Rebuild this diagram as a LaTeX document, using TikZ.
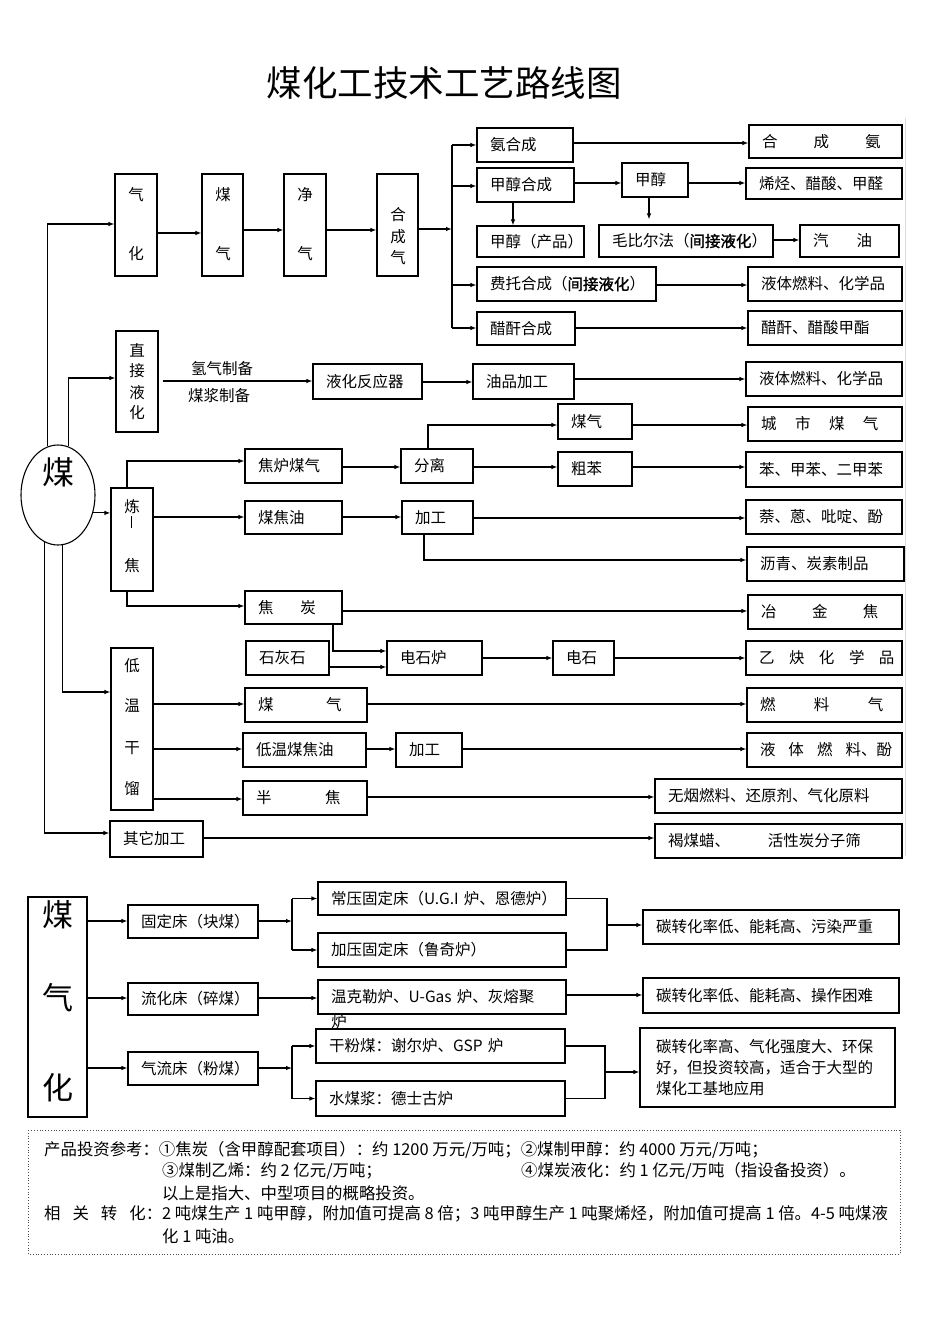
\documentclass[tikz,border=0pt]{standalone}
\usepackage{fontspec}
\setmainfont{Noto Sans CJK SC}
\newfontfamily\hei[FakeBold=1.5]{Noto Sans CJK SC}
\usetikzlibrary{shapes.geometric,arrows.meta,calc}
\tikzset{
 box/.style={draw,line width=1.1pt,inner sep=0pt,align=left,font=\fontsize{15.5}{18}\selectfont},
 lbl/.style={inner sep=0pt,font=\fontsize{15.5}{18}\selectfont},
 ln/.style={line width=1.1pt},
 arr/.style={line width=1.1pt,-{Latex[length=6pt,width=4.5pt]}},
}
\newcommand\mybox[7][]{%
 \pgfmathsetmacro\bxW{#5-#3}%
 \pgfmathsetmacro\bxH{#6-#4}%
 \pgfmathsetmacro\bxX{(#3+#5)/2}%
 \pgfmathsetmacro\bxY{(#4+#6)/2}%
 \pgfmathsetmacro\bxT{#5-#3-26}%
 \node[box,minimum width=\bxW pt,minimum height=\bxH pt,text width=\bxT pt,#1] (#2) at (\bxX,\bxY) {\mbox{#7}};}
\newcommand\harr[3]{\draw[arr] (#1.east |- 0,#3) -- (#2.west |- 0,#3);}
\begin{document}
\begin{tikzpicture}[x=1pt,y=-1pt]
\useasboundingbox (0,0) rectangle (950,1344);
\fill[white] (0,0) rectangle (950,1344);
\draw[black!15,line width=0.8pt] (905,118) -- (905,856);

\node[font=\fontsize{35.5}{36}\selectfont,inner sep=0pt] (title) at (444,83) {煤化工技术工艺路线图};

% coal ellipse
\node[draw,ellipse,line width=1.1pt,inner sep=0pt,minimum width=74pt,minimum height=100pt] (coal) at (58,495) {};
\node[font=\fontsize{32}{32}\selectfont,inner sep=0pt] (coalt) at (58,472) {煤};

% ===== gasification branch =====
\mybox{gasif}{115}{174}{157}{276}{}
\node[lbl] (ga1) at (136,195) {气};
\node[lbl] (ga2) at (136,254) {化};
\mybox{gas1}{202}{174}{243}{276}{}
\node[lbl] (gb1) at (223,195) {煤};
\node[lbl] (gb2) at (223,254) {气};
\mybox{clean}{284}{174}{326}{276}{}
\node[lbl] (gc1) at (305,195) {净};
\node[lbl] (gc2) at (305,254) {气};
\mybox{syn}{377}{174}{418}{276}{}
\node[lbl] (gd1) at (398,215) {合};
\node[lbl] (gd2) at (398,237) {成};
\node[lbl] (gd3) at (398,258) {气};

\mybox{amm}{477}{128}{573}{162}{氨合成}
\mybox{mes}{477}{168}{574}{202}{甲醇合成}
\mybox{mep}{477}{226}{584}{257}{甲醇（产品）}
\mybox{ft}{477}{267}{656}{301}{费托合成（{\hei 间接液化}）}
\mybox{acet}{477}{312}{575}{345}{醋酐合成}
\mybox{mol}{622}{163}{688}{197}{甲醇}
\mybox{mtg}{599}{225}{773}{257}{毛比尔法（{\hei 间接液化}）}
\mybox{ammp}{749}{125}{902}{158}{合\hspace{36pt}成\hspace{36pt}氨}
\mybox{olef}{746}{168}{902}{199}{烯烃、醋酸、甲醛}
\mybox{gasoline}{800}{225}{899}{257}{汽\hspace{28pt}油}
\mybox{liq1}{748}{267}{902}{301}{液体燃料、化学品}
\mybox{acetp}{748}{311}{902}{345}{醋酐、醋酸甲酯}

\harr{gasif}{gas1}{233}
\harr{gas1}{clean}{230}
\harr{clean}{syn}{230}
\coordinate (busA) at (452,145);
\coordinate (busM) at (452,229);
\coordinate (busD) at (452,328);
\draw[arr] (syn.east |- busM) -- (busM);
\draw[ln] (busA) -- (busD);
\draw[arr] (busA) -- (amm.west |- busA);
\draw[arr] (busA |- 0,186) -- (mes.west |- 0,186);
\draw[arr] (busA |- 0,285) -- (ft.west |- 0,285);
\draw[arr] (busD) -- (acet.west |- busD);
\harr{amm}{ammp}{143}
\harr{mes}{mol}{183}
\harr{mol}{olef}{183}
\draw[arr] (mes.south -| 513,0) -- (mep.north -| 513,0);
\draw[arr] (mol.south -| 649,0) -- ([yshift=5pt]mtg.north -| 649,0);
\harr{mtg}{gasoline}{240}
\harr{ft}{liq1}{285}
\harr{acet}{acetp}{328}

% ===== direct liquefaction =====
\mybox{dliq}{116}{331}{158}{432}{}
\node[lbl] (da1) at (137,350) {直};
\node[lbl] (da2) at (137,371) {接};
\node[lbl] (da3) at (137,393) {液};
\node[lbl] (da4) at (137,413) {化};
\mybox{reactor}{313}{364}{422}{399}{液化反应器}
\mybox{oilp}{473}{364}{574}{399}{油品加工}
\mybox{liq2}{746}{362}{902}{396}{液体燃料、化学品}
\draw[arr] ([xshift=4pt]dliq.east |- 0,381) -- (reactor.west |- 0,381);
\node[lbl] (h2) at (222,369) {氢气制备};
\node[lbl] (slur) at (219,396) {煤浆制备};
\harr{reactor}{oilp}{382}
\harr{oilp}{liq2}{379}

% ===== coking =====
\mybox{coke}{111}{488}{153}{591}{}
\node[lbl] (ca1) at (132,507) {炼};
\draw[line width=1pt] (131,516) -- (131,528);
\node[lbl] (ca3) at (132,566) {焦};
\mybox{cog}{245}{449}{342}{483}{焦炉煤气}
\mybox{tar}{245}{501}{342}{534}{煤焦油}
\mybox{cokep}{245}{591}{342}{624}{焦\hspace{27pt}炭}
\mybox{sep}{401}{449}{473}{483}{分离}
\mybox{proc1}{402}{501}{473}{534}{加工}
\mybox{gas2}{558}{404}{632}{439}{煤气}
\mybox{benz}{558}{452}{632}{486}{粗苯}
\mybox{city}{748}{407}{902}{441}{城\hspace{18.5pt}市\hspace{18.5pt}煤\hspace{18.5pt}气}
\mybox{btx}{746}{452}{902}{487}{苯、甲苯、二甲苯}
\mybox{nap}{746}{500}{902}{534}{萘、蒽、吡啶、酚}
\mybox{pitch}{747}{547}{904}{581}{沥青、炭素制品}
\mybox{metc}{748}{595}{902}{629}{冶\hspace{35.5pt}金\hspace{35.5pt}焦}
\mybox{lime}{246}{641}{329}{675}{石灰石}
\mybox{carbf}{387}{641}{482}{675}{电石炉}
\mybox{carb}{553}{641}{614}{675}{电石}
\mybox{acety}{746}{641}{902}{675}{乙\hspace{14.5pt}炔\hspace{14.5pt}化\hspace{14.5pt}学\hspace{14.5pt}品}

\draw[arr] (coke.north -| 127,0) |- (cog.west |- 0,461);
\harr{coke}{tar}{517}
\draw[arr] (coke.south -| 127,0) |- (cokep.west |- 0,606);
\harr{cog}{sep}{467}
\harr{tar}{proc1}{517}
\draw[arr] (sep.north -| 428,0) |- (gas2.west |- 0,425);
\harr{sep}{benz}{467}
\harr{gas2}{city}{425}
\harr{benz}{btx}{467}
\harr{proc1}{nap}{518}
\draw[arr] (proc1.south -| 424,0) |- (pitch.west |- 0,560);
\harr{cokep}{metc}{611}
\draw[arr] (cokep.south -| 333,0) |- (carbf.west |- 0,651);
\harr{lime}{carbf}{667}
\harr{carbf}{carb}{658}
\harr{carb}{acety}{658}

% ===== low temperature carbonisation =====
\mybox{ldist}{111}{648}{153}{810}{}
\node[lbl] (la1) at (132,666) {低};
\node[lbl] (la2) at (132,706) {温};
\node[lbl] (la3) at (132,748) {干};
\node[lbl] (la4) at (132,789) {馏};
\mybox{lgas}{245}{688}{367}{722}{煤\hspace{52.5pt}气}
\mybox{ltar}{243}{733}{366}{767}{低温煤焦油}
\mybox{proc2}{396}{733}{462}{767}{加工}
\mybox{semi}{243}{781}{367}{815}{半\hspace{53.5pt}焦}
\mybox{other}{110}{821}{203}{857}{其它加工}
\mybox{fuelg}{747}{688}{902}{722}{燃\hspace{38.5pt}料\hspace{38.5pt}气}
\mybox{liqph}{747}{733}{902}{767}{液\hspace{13pt}体\hspace{13pt}燃\hspace{13pt}料、酚}
\mybox{smk}{655}{779}{902}{813}{无烟燃料、还原剂、气化原料}
\mybox{lig}{655}{824}{902}{858}{褐煤蜡、\hspace{38pt}活性炭分子筛}

\harr{ldist}{lgas}{704}
\harr{ldist}{ltar}{749}
\harr{ltar}{proc2}{749}
\harr{proc2}{liqph}{749}
\harr{ldist}{semi}{799}
\harr{lgas}{fuelg}{704}
\harr{semi}{smk}{797}
\harr{other}{lig}{838}

% coal connectors
\draw[arr] (coal.102) |- (gasif.west |- 0,224);
\draw[arr] (coal.78) |- (dliq.west |- 0,378);
\draw[arr] (coal.333) -- (coke.west |- coal.333);
\draw[arr] (coal.275) |- (ldist.west |- 0,692);
\draw[arr] (coal.254) |- (other.west |- 0,833);

% ===== coal gasification section =====
\mybox{cg}{28}{897}{87}{1117}{}
\node[inner sep=0pt,font=\fontsize{31}{31}\selectfont] (cg1) at (58,915) {煤};
\node[inner sep=0pt,font=\fontsize{31}{31}\selectfont] (cg2) at (58,998) {气};
\node[inner sep=0pt,font=\fontsize{31}{31}\selectfont] (cg3) at (58,1088) {化};
\mybox{fixed}{128}{905}{258}{938}{固定床（块煤）}
\mybox{fluid}{128}{983}{258}{1015}{流化床（碎煤）}
\mybox{entr}{128}{1052}{258}{1085}{气流床（粉煤）}
\mybox{atm}{318}{882}{566}{915}{常压固定床（U.G.I 炉、恩德炉）}
\mybox{pres}{318}{933}{566}{967}{加压固定床（鲁奇炉）}
\mybox{wink}{318}{980}{566}{1014}{温克勒炉、U-Gas 炉、灰熔聚}
\node[lbl] (winkx) at (339,1022) {炉};
\mybox{dry}{316}{1029}{565}{1063}{干粉煤：谢尔炉、GSP 炉}
\mybox{slurry}{316}{1081}{565}{1116}{水煤浆：德士古炉}
\mybox{r1}{643}{910}{899}{944}{碳转化率低、能耗高、污染严重}
\mybox{r2}{643}{978}{899}{1013}{碳转化率低、能耗高、操作困难}
\node[box,minimum width=255pt,minimum height=79pt,text width=223pt,font=\fontsize{15.5}{21}\selectfont] (r3) at (767.5,1067.5) {碳转化率高、气化强度大、环保\\好，但投资较高，适合于大型的\\煤化工基地应用};

\harr{cg}{fixed}{921}
\harr{cg}{fluid}{998}
\harr{cg}{entr}{1068}
\coordinate (b1t) at (292,898.5);
\coordinate (b1m) at (292,921);
\coordinate (b1b) at (292,950);
\draw[arr] (fixed.east |- b1m) -- (b1m);
\draw[ln] (b1t) -- (b1b);
\draw[arr] (b1t) -- (atm.west |- b1t);
\draw[arr] (b1b) -- (pres.west |- b1b);
\coordinate (rb1) at (607,925);
\draw[ln] (atm.east) -| (rb1) |- (pres.east);
\draw[arr] (rb1) -- (r1.west |- rb1);
\harr{fluid}{wink}{998}
\harr{wink}{r2}{995}
\coordinate (b2t) at (292,1046);
\coordinate (b2m) at (292,1068);
\coordinate (b2b) at (292,1098.5);
\draw[arr] (entr.east |- b2m) -- (b2m);
\draw[ln] (b2t) -- (b2b);
\draw[arr] (b2t) -- (dry.west |- b2t);
\draw[arr] (b2b) -- (slurry.west |- b2b);
\coordinate (rb2) at (605,1072);
\draw[ln] (dry.east) -| (rb2) |- (slurry.east);
\draw[arr] (rb2) -- (r3.west |- rb2);

% ===== notes =====
\draw[black!70,line width=0.8pt,dotted] (28,1130) rectangle (900,1254);
\begin{scope}[every node/.style={anchor=west,inner sep=0pt,font=\fontsize{16.4}{18}\selectfont}]
\node (n1) at (44,1150) {产品投资参考：①焦炭（含甲醇配套项目）：约 1200 万元/万吨；②煤制甲醇：约 4000 万元/万吨；};
\node (n2a) at (162,1171) {③煤制乙烯：约 2 亿元/万吨；};
\node (n2b) at (521,1171) {④煤炭液化：约 1 亿元/万吨（指设备投资）。};
\node (n3) at (162,1193) {以上是指大、中型项目的概略投资。};
\node (n4) at (44,1214) {\makebox[118pt][s]{相\hfill 关\hfill 转\hfill 化：}2 吨煤生产 1 吨甲醇，附加值可提高 8 倍；3 吨甲醇生产 1 吨聚烯烃，附加值可提高 1 倍。4-5 吨煤液};
\node (n5) at (162,1236) {化 1 吨油。};
\end{scope}
\end{tikzpicture}
\end{document}
